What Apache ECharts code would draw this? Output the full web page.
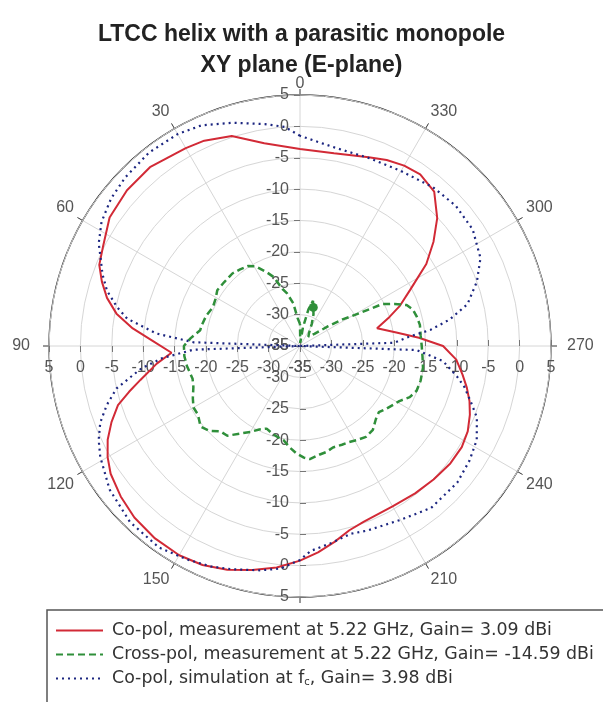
<!DOCTYPE html>
<html>
<head>
<meta charset="utf-8">
<script src="https://cdn.jsdelivr.net/npm/echarts@6/dist/echarts.min.js"></script>
<style>
  html, body { margin: 0; padding: 0; background: #fff; }
  #chart { width: 603px; height: 702px; }
</style>
</head>
<body>
<div id="chart"></div>
<script>
// ---- data (angle in degrees, counter-clockwise from top; value in dB) ----
const titleText = 'LTCC helix with a parasitic monopole\nXY plane (E-plane)';
// 180 sits behind the legend box in the original, so it is not listed
const angleTicks = [0, 30, 60, 90, 120, 150, 210, 240, 270, 300, 330];
const radiusTicks = [-35, -30, -25, -20, -15, -10, -5, 0, 5];

const seriesNames = [
  'Co-pol, measurement at 5.22 GHz, Gain= 3.09 dBi',
  'Cross-pol, measurement at 5.22 GHz, Gain= -14.59 dBi',
  'Co-pol, simulation at f_c, Gain= 3.98 dBi'
];

const coMeasAngles = [0, 10, 18, 25, 30, 40, 48, 56, 63, 68, 72, 76, 80, 84, 88, 93, 97, 102, 105, 108, 112, 116, 120, 124, 130, 136, 143, 150, 156, 162, 168, 174, 180, 185, 190, 195, 200, 210, 218, 225, 232, 238, 243, 248, 252, 256, 260, 265, 270, 274, 278, 283, 288, 292, 297, 303, 308, 313, 319, 325, 330, 335, 340, 350, 360];
const coMeasValues = [-3.6, -2.2, 0.2, 1.1, 1.4, 2.2, 2.1, 1.6, 0.2, -0.5, -1.8, -3.3, -5.3, -8.2, -11.5, -14.5, -12, -9, -6.8, -4.5, -2.6, -0.9, 0.4, 1.4, 2.3, 3.0, 3.4, 3.5, 3.2, 2.5, 1.5, 0.5, -0.8, -2.0, -3.3, -4.6, -5.2, -5.5, -5.2, -4.9, -4.6, -4.6, -5.0, -5.8, -6.6, -7.6, -8.7, -10, -12.2, -16, -19.5, -22.4, -20, -17.8, -15.3, -11, -8, -5.1, -2.4, -1.6, -1.8, -2.3, -3.0, -3.8, -3.6];

const crossMeasAngles = [0, 5, 9, 14, 17, 21, 24, 29, 33, 38, 43, 50, 56, 61, 66, 72, 78, 81, 86, 90, 95, 100, 107, 111, 116, 120, 124, 129, 133, 137, 141, 146, 150, 154, 158, 163, 167, 170, 174, 178, 182, 185, 190, 194, 198, 203, 207, 211, 216, 221, 226, 230, 234, 238, 241, 245, 249, 254, 260, 265, 270, 275, 280, 284, 288, 291, 294, 297, 300, 302, 305, 310, 318, 325, 332, 337, 341, 344, 347, 351, 355, 360];
const crossMeasValues = [-31.5, -30.5, -28.1, -26.3, -25.5, -23.2, -22.2, -20.5, -19.8, -19.5, -19.2, -19.2, -19.1, -19.6, -19.8, -19.3, -19, -18.9, -17.5, -16.5, -16.5, -16.7, -17.1, -16.8, -16.0, -15.4, -15.4, -14.6, -15.2, -16.4, -16.6, -18.2, -19.2, -20.2, -20.8, -20.3, -20, -19.8, -18.8, -17.9, -17.2, -16.9, -17.4, -17.6, -18.0, -17.9, -17.8, -17.5, -17.1, -17.3, -18.2, -18.6, -18, -17.4, -16.9, -15.7, -15.1, -15.0, -15.1, -15.4, -15.6, -15.7, -15.6, -15.8, -16.1, -16.8, -18.5, -20.3, -25.5, -27, -29.5, -32, -33, -32.5, -31, -29.5, -28.5, -27.5, -29, -32, -34.5, -31.5];
const crossDotAngle = 341;

const coSimAngles = [0, 4, 9, 17, 24, 30, 38, 46, 52, 58, 63, 66, 70, 74, 78, 81, 85, 88, 90, 92, 95, 98, 103, 107, 111, 115, 119, 127, 136, 145, 152, 158, 163, 170, 175, 180, 183, 189, 195, 200, 210, 219, 229, 236, 242, 248, 252, 256, 259, 264, 268, 270, 272, 275, 277, 280, 284, 290, 296, 304, 312, 320, 330, 340, 350, 356, 360];
const coSimValues = [-1.5, 0, 0.8, 2.2, 3.5, 4.0, 4.1, 3.7, 3.2, 2.3, 1.0, -0.2, -1.5, -3, -5.2, -7.1, -12, -18, -35, -18, -13, -9.5, -5, -2.8, -0.9, 0.4, 1.4, 3.0, 4.0, 4.2, 3.5, 2.9, 2.2, 1.3, 0.6, -0.9, -2.3, -3.2, -4.0, -3.7, -3.0, -1.8, -1.8, -2.4, -3.1, -4.6, -6.4, -8, -9.5, -12.1, -16.4, -35, -20, -17.4, -14.1, -10.8, -7.5, -5.0, -3.0, -1.8, -1.6, -2.0, -2.8, -3.1, -2.9, -2.2, -1.5];

// ---- chart ----
const FONT = '"Liberation Sans", Arial, sans-serif';
const LEGEND_FONT = '"DejaVu Sans", Verdana, sans-serif';
const CENTER = [300, 346];
const RADIUS = 251;
const colors = ['#d22a36', '#2f8f3a', '#1c2680'];

function pairs(angles, values) {
  return angles.map((a, i) => [values[i], a]);
}

const crossData = pairs(crossMeasAngles, crossMeasValues).map(p => {
  if (p[1] === crossDotAngle) {
    return { value: p, symbol: 'circle', symbolSize: 9, itemStyle: { color: colors[1] } };
  }
  return p;
});

// four polar systems share centre/radius; #0 draws grid + data, the others only radial labels
const startAngles = [90, 270, 180, 0];
const polars = startAngles.map(() => ({ center: CENTER, radius: RADIUS }));

function angleLabel(v) {
  if (angleTicks.indexOf(v) < 0) return '';
  if (v === 0) return '{top|0}';
  if (v === 90) return '{lft|90}';
  if (v === 270) return '{rgt|270}';
  return String(v);
}

const angleAxes = startAngles.map((sa, i) => {
  const base = {
    polarIndex: i, type: 'value', min: 0, max: 360, interval: 30,
    startAngle: sa, clockwise: false
  };
  if (i === 0) {
    return Object.assign(base, {
      axisLine: { show: true, lineStyle: { color: '#222', width: 1.3 } },
      axisTick: { show: true, length: 6, lineStyle: { color: '#333' } },
      axisLabel: {
        show: true, margin: 10,
        fontSize: 16, color: '#555', fontFamily: FONT,
        formatter: angleLabel,
        rich: {
          top: { fontSize: 16, color: '#555', fontFamily: FONT, lineHeight: 2 },
          lft: { fontSize: 16, color: '#555', fontFamily: FONT, padding: [0, 9, 0, 0] },
          rgt: { fontSize: 16, color: '#555', fontFamily: FONT, padding: [0, 0, 0, 6] }
        }
      },
      splitLine: { show: true, lineStyle: { color: '#d6d6d6', width: 1 } }
    });
  }
  return Object.assign(base, {
    axisLine: { show: false }, axisTick: { show: false },
    axisLabel: { show: false }, splitLine: { show: false }
  });
});

const labelCfg = [
  { margin: 11 },                                   // up: labels left
  { margin: -11, align: 'right' },                  // down: move to left
  { margin: 14 },                                   // left: labels below
  { margin: -14, verticalAlign: 'top', align: 'center' } // right: move below
];
const tickInside = [false, true, true, false];

const radiusAxes = startAngles.map((sa, i) => ({
  polarIndex: i, type: 'value', min: radiusTicks[0], max: radiusTicks[radiusTicks.length - 1], interval: 5,
  axisLine: { show: false },
  axisTick: { show: true, length: 6, inside: tickInside[i], lineStyle: { color: '#777' } },
  axisLabel: Object.assign({
    show: true, fontSize: 16, color: '#555', fontFamily: FONT
  }, labelCfg[i]),
  splitLine: { show: i === 0, lineStyle: { color: '#d6d6d6', width: 1 } },
  z: 3
}));

const option = {
  animation: false,
  backgroundColor: '#fff',
  title: {
    text: titleText,
    left: 'center', top: 14,
    textStyle: { fontSize: 23, fontWeight: 'bold', color: '#222', lineHeight: 31, fontFamily: FONT }
  },
  polar: polars,
  angleAxis: angleAxes,
  radiusAxis: radiusAxes,
  legend: {
    orient: 'vertical',
    left: 47, top: 610,
    width: 700, height: 130,
    padding: [12, 200, 24, 8],
    itemGap: 7,
    itemWidth: 47, itemHeight: 14,
    backgroundColor: '#fff',
    borderColor: '#555', borderWidth: 1.5,
    itemStyle: { color: 'rgba(0,0,0,0)', borderWidth: 0, opacity: 0 },
    textStyle: {
      fontSize: 17.4, color: '#333', fontFamily: LEGEND_FONT, padding: [0, 0, 0, 4],
      rich: { sub: { fontSize: 10, color: '#333', fontFamily: LEGEND_FONT, verticalAlign: 'bottom', padding: [8, 0, 0, 0] } }
    },
    formatter: name => name.replace('f_c', 'f{sub|c}'),
    data: seriesNames,
    z: 10
  },
  series: [
    {
      name: seriesNames[0], type: 'line', coordinateSystem: 'polar', polarIndex: 0,
      symbol: 'none', data: pairs(coMeasAngles, coMeasValues),
      lineStyle: { color: colors[0], width: 2, type: 'solid' },
      itemStyle: { color: colors[0] }, z: 4
    },
    {
      name: seriesNames[1], type: 'line', coordinateSystem: 'polar', polarIndex: 0,
      symbol: 'none', data: crossData,
      lineStyle: { color: colors[1], width: 2.5, type: [7, 4] },
      itemStyle: { color: colors[1] }, z: 4
    },
    {
      name: seriesNames[2], type: 'line', coordinateSystem: 'polar', polarIndex: 0,
      symbol: 'none', data: pairs(coSimAngles, coSimValues),
      lineStyle: { color: colors[2], width: 2.2, type: [2, 4] },
      itemStyle: { color: colors[2] }, z: 5
    }
  ]
};

const chart = echarts.init(document.getElementById('chart'), null, { renderer: 'canvas' });
chart.setOption(option);
</script>
</body>
</html>
